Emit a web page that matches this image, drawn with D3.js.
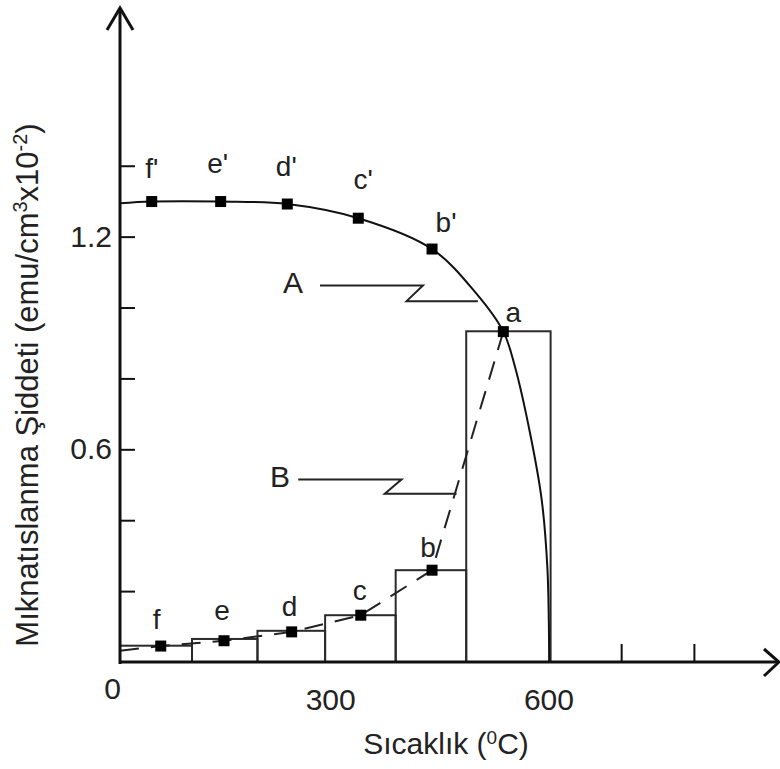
<!DOCTYPE html>
<html><head><meta charset="utf-8">
<script src="https://cdn.jsdelivr.net/npm/d3@7"></script>
<style>
body{margin:0;background:#fff}
text{font-family:"Liberation Sans",Arial,Helvetica,sans-serif;fill:#222}
</style>
</head><body>
<svg id="chart" width="780" height="769"></svg>
<script>
// ---------- data (temperature °C, magnetisation emu/cm3 x10^-2) ----------
const binEdges   = [11, 110, 200, 293, 390, 487, 603];
const binValues  = [0.046, 0.065, 0.088, 0.132, 0.259, 0.933];

const lowLabels  = ["f", "e", "d", "c", "b", "a"];
const lowT       = [67, 154, 247, 342, 440, 538];
const lowM       = [0.045, 0.060, 0.085, 0.132, 0.259, 0.932];

const highLabels = ["f'", "e'", "d'", "c'", "b'"];
const highT      = [54.6, 149.4, 241, 338.6, 440];
const highM      = [1.299, 1.299, 1.292, 1.252, 1.165];

// curve A (solid)
const curveAT = [11, 54.6, 149.4, 241, 338.6, 440, 501, 538, 554, 574.7, 590.8, 598.5, 600.5, 601];
const curveAM = [1.294, 1.299, 1.299, 1.292, 1.252, 1.165, 1.039, 0.932, 0.833, 0.646, 0.457, 0.269, 0.12, 0];
// curve B (dashed)
const curveBT = [11, 67, 154, 247, 342, 440, 538];
const curveBM = [0.032, 0.045, 0.060, 0.085, 0.132, 0.259, 0.932];

const xTickLabels = [0, 300, 600];
const xTickMarks  = [700, 800];
const yTickMarks  = [0.2, 0.4, 0.6, 0.8, 1.0, 1.2, 1.4];
const yTickLabels = [0.6, 1.2];

// callouts (data coordinates)
const calloutNames = ["A", "B"];
const calloutText  = [[249, 1.071], [231, 0.524]];
const calloutPaths = [
  [[286, 1.062], [427.5, 1.062], [405, 1.018], [503, 1.018]],
  [[256, 0.515], [398, 0.515], [375, 0.475], [473.7, 0.475]]
];
const yAxisT = 11;     // temperature at which the vertical axis is drawn

// ---------- layout ----------
const svg = d3.select("#chart");
const x = d3.scaleLinear().domain([0, 917]).range([112, 779]);
const y = d3.scaleLinear().domain([0, 1.845]).range([662, 8]);
const ink = "#111";
const x0 = x(yAxisT), yBase = y(0);

// bars
const bars = binValues.map((v, i) => ({x0: binEdges[i], x1: binEdges[i + 1], v}));
svg.append("g").selectAll("rect").data(bars).join("rect")
  .attr("x", d => x(d.x0)).attr("width", d => x(d.x1) - x(d.x0))
  .attr("y", d => y(d.v)).attr("height", d => yBase - y(d.v))
  .attr("fill", "none").attr("stroke", "#2a2a2a").attr("stroke-width", 2);

// curves
const lineA = d3.line().x(d => x(d[0])).y(d => y(d[1])).curve(d3.curveCatmullRom.alpha(0.5));
svg.append("path").attr("d", lineA(d3.zip(curveAT, curveAM)))
  .attr("fill", "none").attr("stroke", ink).attr("stroke-width", 2);
const lineB = d3.line().x(d => x(d[0])).y(d => y(d[1]));
svg.append("path").attr("d", lineB(d3.zip(curveBT, curveBM)))
  .attr("fill", "none").attr("stroke", "#222").attr("stroke-width", 2)
  .attr("stroke-dasharray", "19 12");

// callouts
const pl = d3.line().x(d => x(d[0])).y(d => y(d[1]));
calloutPaths.forEach((p, i) => {
  svg.append("path").attr("d", pl(p)).attr("fill", "none")
    .attr("stroke", "#222").attr("stroke-width", 2);
  svg.append("text").attr("x", x(calloutText[i][0])).attr("y", y(calloutText[i][1]))
    .attr("text-anchor", "middle").attr("dy", "0.36em")
    .style("font-size", "30px").text(calloutNames[i]);
});

// axes
const axes = svg.append("g");
axes.append("line").attr("x1", x0).attr("x2", x0).attr("y1", yBase + 2).attr("y2", y(1.845))
  .attr("stroke", ink).attr("stroke-width", 3);
axes.append("line").attr("x1", x0 - 1).attr("x2", x(917)).attr("y1", yBase).attr("y2", yBase)
  .attr("stroke", ink).attr("stroke-width", 3);
axes.append("path")
  .attr("d", `M${x0 - 13},${y(1.845) + 22}L${x0},${y(1.845)}L${x0 + 13},${y(1.845) + 22}`)
  .attr("fill", "none").attr("stroke", ink).attr("stroke-width", 3);
axes.append("path")
  .attr("d", `M${x(917) - 15},${yBase - 13}L${x(917)},${yBase}L${x(917) - 15},${yBase + 14}`)
  .attr("fill", "none").attr("stroke", ink).attr("stroke-width", 3);

// y ticks (inward) and labels
const yT = svg.append("g").attr("transform", `translate(${x0},0)`)
  .call(d3.axisRight(y).tickValues(yTickMarks).tickSize(15).tickFormat(""));
yT.select(".domain").remove();
yT.selectAll("line").attr("stroke", ink).attr("stroke-width", 2);
const yL = svg.append("g").attr("transform", `translate(${x0},0)`)
  .call(d3.axisLeft(y).tickValues(yTickLabels).tickSize(0).tickPadding(8).tickFormat(d3.format(".1f")));
yL.select(".domain").remove();
yL.selectAll("text").style("font-size", "30px").attr("fill", "#222")
  .attr("font-family", null);

// x ticks (inward) and labels
const xT = svg.append("g").attr("transform", `translate(0,${yBase})`)
  .call(d3.axisTop(x).tickValues(xTickMarks).tickSize(18).tickFormat(""));
xT.select(".domain").remove();
xT.selectAll("line").attr("stroke", ink).attr("stroke-width", 2);
const xL = svg.append("g").attr("transform", `translate(0,${yBase})`)
  .call(d3.axisBottom(x).tickValues(xTickLabels).tickSize(0).tickPadding(27).tickFormat(d3.format("d")));
xL.select(".domain").remove();
xL.selectAll("text").style("font-size", "30px").attr("fill", "#222").attr("font-family", null)
  .filter(d => d === 0).attr("y", 16);

// markers
const sq = 11;
const pts = d3.zip(lowT, lowM).concat(d3.zip(highT, highM));
svg.append("g").selectAll("rect").data(pts).join("rect")
  .attr("x", d => x(d[0]) - sq / 2).attr("y", d => y(d[1]) - sq / 2)
  .attr("width", sq).attr("height", sq).attr("fill", "#000");

// point labels
const lowOff  = [[-4, -17], [-2, -21], [-2, -16], [-1, -15], [-4, -13], [10, -10]];
const highOff = [[0, -24], [-3, -29], [-1, -28], [5, -29], [14, -17]];
const lab = svg.append("g").style("font-size", "28px").attr("text-anchor", "middle");
lowLabels.forEach((t, i) => lab.append("text")
  .attr("x", x(lowT[i]) + lowOff[i][0]).attr("y", y(lowM[i]) + lowOff[i][1]).text(t));
highLabels.forEach((t, i) => lab.append("text")
  .attr("x", x(highT[i]) + highOff[i][0]).attr("y", y(highM[i]) + highOff[i][1]).text(t));

// axis titles
const xt = svg.append("text").attr("x", 446).attr("y", 754).attr("text-anchor", "middle")
  .style("font-size", "30px");
xt.append("tspan").text("Sıcaklık (");
xt.append("tspan").attr("baseline-shift", "super").style("font-size", "19px").text("0");
xt.append("tspan").text("C)");

const yt = svg.append("text").attr("transform", "translate(38,385) rotate(-90)")
  .attr("text-anchor", "middle").style("font-size", "31px");
yt.append("tspan").text("Mıknatıslanma Şiddeti (emu/cm");
yt.append("tspan").attr("baseline-shift", "super").style("font-size", "20px").text("3");
yt.append("tspan").text("x10");
yt.append("tspan").attr("baseline-shift", "super").style("font-size", "20px").text("-2");
yt.append("tspan").text(")");
</script>
</body></html>
